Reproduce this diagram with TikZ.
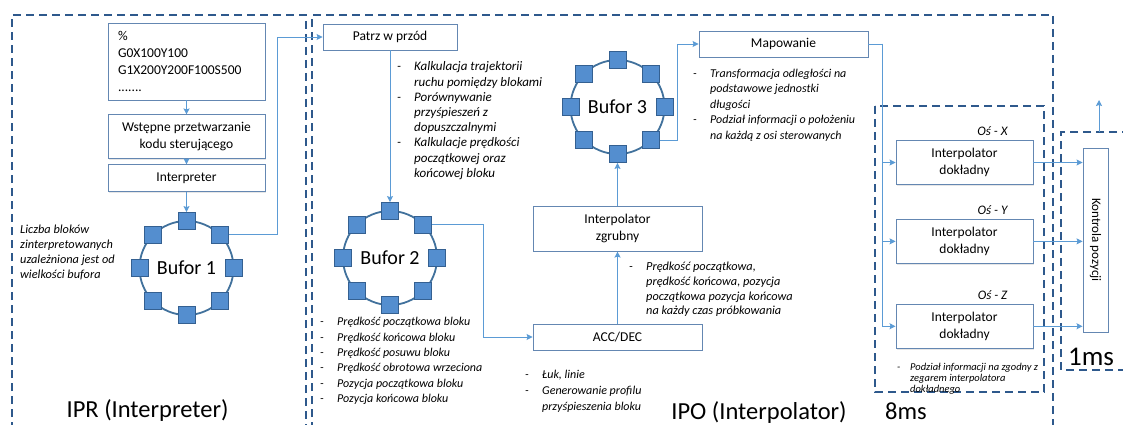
\documentclass[tikz,border=0pt]{standalone}
\usepackage{fontspec}
\setmainfont{Carlito}
\usetikzlibrary{arrows.meta,positioning,calc,shadows}

\definecolor{framec}{RGB}{46,89,140}
\definecolor{boxc}{RGB}{100,135,178}
\definecolor{linec}{RGB}{91,155,213}
\definecolor{cellc}{RGB}{84,142,207}
\definecolor{celld}{RGB}{52,96,145}
\definecolor{ringc}{RGB}{65,113,156}

\newcommand{\boxfont}{\fontsize{13.5}{17}\selectfont}
\newcommand{\notefont}{\fontsize{12}{15.3}\selectfont\itshape}
\newcommand{\bigfont}{\fontsize{24.5}{28}\selectfont}
\newcommand{\dashlist}[1]{\begin{tabular}{@{}p{17pt}@{}l@{}}#1\end{tabular}}

% bufor: name, centre, label
\newcommand{\bufor}[3]{%
  \node[ring] (#1) at (#2) {#3};
  \foreach \a in {0,45,...,315}
    \node[cell] (#1-\a) at ($(#1)+(\a:47pt)$) {};
}

\begin{document}
\begin{tikzpicture}[x=1pt,y=-1pt,
  frame/.style={draw=framec,line width=1.5pt,dash pattern=on 8pt off 5pt},
  box/.style={draw=boxc,fill=white,line width=0.9pt,font=\boxfont,align=center,inner sep=2pt,
    drop shadow={shadow xshift=1.2pt,shadow yshift=-1.2pt,opacity=0.2}},
  ring/.style={circle,draw=ringc,line width=1.8pt,minimum size=94pt,font=\fontsize{20}{23}\selectfont},
  cell/.style={draw=celld,fill=cellc,line width=0.8pt,minimum size=17pt,inner sep=0},
  arr/.style={draw=linec,line width=0.9pt,-{Stealth[length=6pt,width=6pt,inset=1pt]}},
  wire/.style={draw=linec,line width=0.9pt},
  note/.style={font=\notefont,anchor=north west,inner sep=0,align=left},
  axis/.style={font=\fontsize{13}{15}\selectfont\itshape,inner sep=0},
  big/.style={font=\bigfont,anchor=base}
]
\clip (0,0) rectangle (1123,425);

% dashed frames
\draw[frame] (12,430) -- (12,15) -- (306,15) -- (306,430);
\draw[frame] (312,430) -- (312,15) -- (1053,15) -- (1053,430);
\draw[frame] (875,106) rectangle (1044,392);
\draw[frame] (1130,132) -- (1061,132) -- (1061,370) -- (1130,370);

% IPR
\node[box,minimum width=157pt,minimum height=77pt,text width=137pt,align=left] (gcode) at (186.5,61.5)
  {\%\\G0X100Y100\\G1X200Y200F100S500\\.......};
\node[box,minimum width=157pt,minimum height=44pt,below=14pt of gcode] (prep) {Wstępne przetwarzanie\\kodu sterującego};
\node[box,minimum width=157pt,minimum height=27pt,below=5pt of prep] (interp) {Interpreter};
\bufor{b1}{186.5,268}{Bufor 1}
\node[note,font=\fontsize{12.3}{15}\selectfont\itshape] (count) at (20,225) {Liczba bloków\\zinterpretowanych\\uzależniona jest od\\wielkości bufora};

% IPO
\node[box,minimum width=134pt,minimum height=26pt] (patrz) at (390,37) {Patrz w przód};
\node[note,font=\fontsize{13}{15.2}\selectfont\itshape] (patrznote) at (397,60) {\dashlist{-&Kalkulacja trajektorii\\&ruchu pomiędzy blokami\\-&Porównywanie\\&przyśpieszeń z\\&dopuszczalnymi\\-&Kalkulacje prędkości\\&początkowej oraz\\&końcowej bloku}};
\bufor{b2}{390,258}{Bufor 2}
\node[note] (b2note) at (320,315) {\dashlist{-&Prędkość początkowa bloku\\-&Prędkość końcowa bloku\\-&Prędkość posuwu bloku\\-&Prędkość obrotowa wrzeciona\\-&Pozycja początkowa bloku\\-&Pozycja końcowa bloku}};

\node[box,minimum width=169pt,minimum height=26pt] (acc) at (617.5,337) {ACC/DEC};
\node[note,font=\fontsize{12}{16}\selectfont\itshape] (accnote) at (525,367) {\dashlist{-&Łuk, linie\\-&Generowanie profilu\\&przyśpieszenia bloku}};
\node[box,minimum width=169pt,minimum height=45pt,above=72pt of acc] (coarse) {Interpolator\\zgrubny};
\node[note,font=\fontsize{12.3}{14.8}\selectfont\itshape] (coarsenote) at (629,260) {\dashlist{-&Prędkość początkowa,\\&prędkość końcowa, pozycja\\&początkowa pozycja końcowa\\&na każdy czas próbkowania}};
\bufor{b3}{617.5,107}{Bufor 3}
\node[box,minimum width=169pt,minimum height=26pt] (map) at (783.5,44) {Mapowanie};
\node[note,font=\fontsize{12}{15.5}\selectfont\itshape] (mapnote) at (693,66) {\dashlist{-&Transformacja odległości na\\&podstawowe jednostki\\&długości\\-&Podział informacji o położeniu\\&na każdą z osi sterowanych}};

% fine interpolators
\node[box,minimum width=137pt,minimum height=44pt] (fine1) at (964.5,162.5) {Interpolator\\dokładny};
\node[box,minimum width=137pt,minimum height=44pt,below=34pt of fine1] (fine2) {Interpolator\\dokładny};
\node[box,minimum width=137pt,minimum height=44pt,below=40pt of fine2] (fine3) {Interpolator\\dokładny};
\foreach \i/\l in {1/X,2/Y,3/Z}
  \node[axis,above=4pt of fine\i.north,xshift=28pt] (axis\i) {Oś - \l};
\node[note,font=\fontsize{10.5}{11}\selectfont\itshape] (splitnote) at (897,362.5)
  {\begin{tabular}{@{}p{13pt}@{}l@{}}-&Podział informacji na zgodny z\\&zegarem interpolatora\\&dokładnego\end{tabular}};
\node[box,rotate=-90,minimum width=184pt,minimum height=25pt,font=\fontsize{13}{15}\selectfont] (ctrl) at (1095.5,240) {Kontrola pozycji};

% labels
\node[big] (ipr) at (147.5,417) {IPR (Interpreter)};
\node[big] (ipo) at (759,419) {IPO (Interpolator)};
\node[big] (ms8) at (906,419) {8ms};
\node[big,font=\fontsize{27}{30}\selectfont] (ms1) at (1091,365) {1ms};

% connectors
\draw[arr] (gcode) -- (prep);
\draw[arr] (prep) -- (interp);
\draw[arr] (interp) -- (b1-90);
\coordinate (k1) at (277,37);
\draw[arr] (b1-45.east) -| (k1) -- (patrz.west);
\draw[arr] (patrz) -- (b2-90);
\coordinate (k2) at (483,337);
\draw[arr] (b2-45.east) -| (k2) -- (acc.west);
\draw[arr] (acc) -- (coarse);
\draw[arr] (coarse) -- (b3-270);
\coordinate (k3) at (677,44);
\draw[arr] (b3-315.east) -| (k3) -- (map.west);
\coordinate (bus) at (882,44);
\draw[wire] (map.east) -- (bus);
\foreach \i in {1,2,3} {
  \draw[arr] (bus) |- (fine\i.west);
  \draw[arr] (fine\i.east) -- (fine\i.east -| ctrl.south);
}
\coordinate (up0) at (1099,132);
\coordinate (up1) at (1099,100);
\draw[arr] (up0) -- (up1);
\end{tikzpicture}
\end{document}
